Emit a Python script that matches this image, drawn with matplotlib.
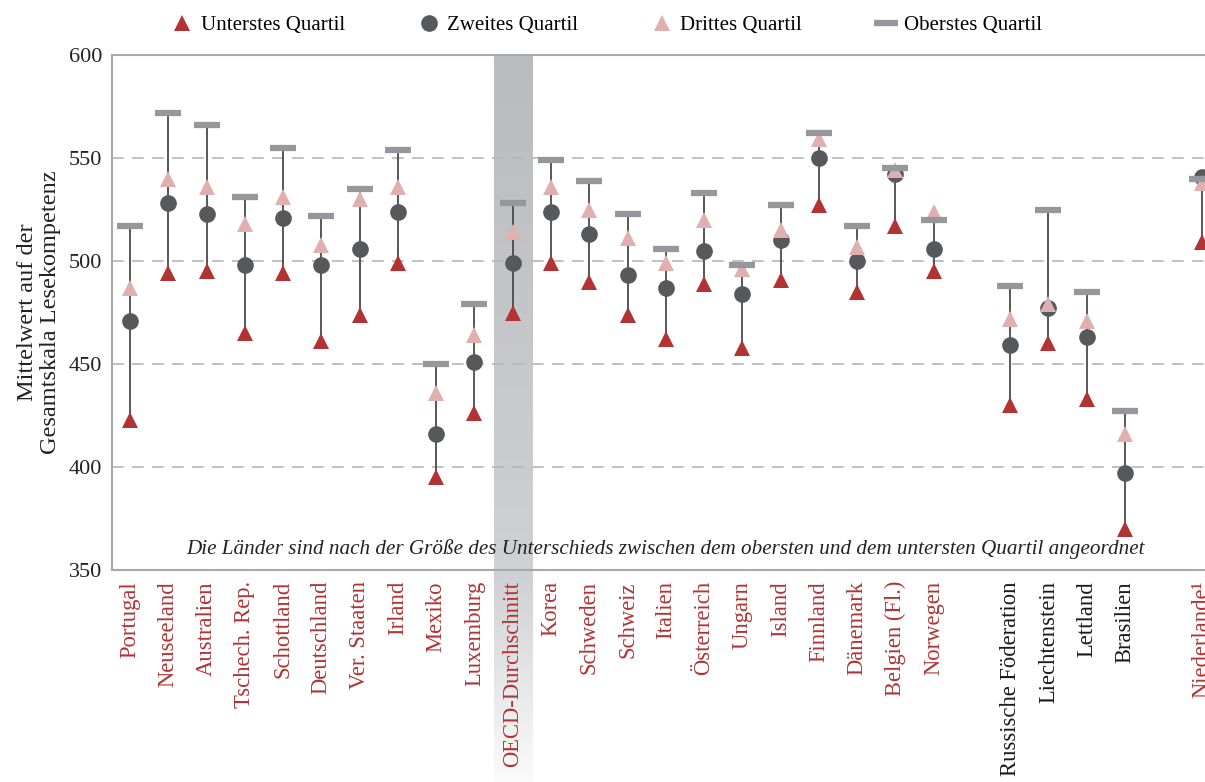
import matplotlib.pyplot as plt
import numpy as np
from matplotlib.lines import Line2D
from matplotlib.colors import LinearSegmentedColormap

plt.rcParams['font.family'] = ['Liberation Serif', 'DejaVu Serif']

# Countries in chart order, with their slot on the x axis (gaps left empty)
countries = ['Portugal', 'Neuseeland', 'Australien', 'Tschech. Rep.', 'Schottland',
             'Deutschland', 'Ver. Staaten', 'Irland', 'Mexiko', 'Luxemburg',
             'OECD-Durchschnitt', 'Korea', 'Schweden', 'Schweiz', 'Italien',
             'Österreich', 'Ungarn', 'Island', 'Finnland', 'Dänemark',
             'Belgien (Fl.)', 'Norwegen',
             'Russische Föderation', 'Liechtenstein', 'Lettland', 'Brasilien',
             'Niederlande¹']
slots = list(range(22)) + [23, 24, 25, 26, 28]
oecd = [True] * 22 + [False, False, False, False, True]

# Mean reading scores per quartile
q1 = [423, 494, 495, 465, 494, 461, 474, 499, 395, 426, 475, 499, 490, 474, 462,
      489, 458, 491, 527, 485, 517, 495, 430, 460, 433, 370, 509]
q2 = [471, 528, 523, 498, 521, 498, 506, 524, 416, 451, 499, 524, 513, 493, 487,
      505, 484, 510, 550, 500, 542, 506, 459, 477, 463, 397, 541]
q3 = [487, 540, 536, 518, 531, 508, 530, 536, 436, 464, 514, 536, 525, 511, 499,
      520, 496, 515, 559, 507, 544, 524, 472, 479, 471, 416, 538]
q4 = [517, 572, 566, 531, 555, 522, 535, 554, 450, 479, 528, 549, 539, 523, 506,
      533, 498, 527, 562, 517, 545, 520, 488, 525, 485, 427, 540]

red = '#b23333'
pink = '#dfb0ae'
dark = '#57585b'
bar = '#96979b'
spine_col = '#a8a8a8'

fig = plt.figure(figsize=(12.05, 7.82), dpi=100)
ax_l, ax_b = 112 / 1205, 1 - 570 / 782
ax_w, ax_h = 1 - ax_l, (570 - 55) / 782
ax = fig.add_axes([ax_l, ax_b, ax_w, ax_h])
ax.set_xlim(-0.47, 28.09)
ax.set_ylim(350, 600)

# OECD average band: a grey gradient fading into the label area
band = fig.add_axes([ax_l, 0, ax_w, ax_b + ax_h], zorder=-1)
band.set_xlim(ax.get_xlim())
band.set_ylim(0, 1)
cmap = LinearSegmentedColormap.from_list(
    'band', [(0, '#fbfbfb'), (0.28, '#d0d1d4'), (1, '#babbbf')])
grad = np.linspace(0, 1, 256).reshape(-1, 1)
band.imshow(grad, extent=(9.5, 10.5, 0, 1), origin='lower', aspect='auto', cmap=cmap)
band.axis('off')
ax.patch.set_alpha(0)

for y in [400, 450, 500, 550]:
    ax.axhline(y, color='#b5b5b5', lw=1.2, dashes=(7, 5), zorder=1)

for i in range(len(countries)):
    x = slots[i]
    ax.plot([x, x], [q1[i], q4[i]], color='#4a4a4a', lw=1.3, zorder=2)
ax.plot(slots, q1, '^', color=red, ms=12, mew=0, zorder=3)
ax.plot(slots, q2, 'o', color=dark, ms=12, mew=0, zorder=4)
ax.plot(slots, q3, '^', color=pink, ms=12, mew=0, zorder=5)
ax.plot(slots, q4, '_', color=bar, ms=19, mew=4.5, zorder=6)

ax.text(14, 360, 'Die Länder sind nach der Größe des Unterschieds zwischen dem '
        'obersten und dem untersten Quartil angeordnet',
        ha='center', va='center', style='italic', fontsize=15.2, color='#222222')

ax.set_yticks([350, 400, 450, 500, 550, 600])
ax.tick_params(axis='y', length=0, pad=7, labelsize=16, labelcolor='#222222')
ax.set_xticks(slots)
ax.set_xticklabels(countries, rotation=90, fontsize=16.3)
ax.tick_params(axis='x', length=0, pad=8)
for lab, is_oecd in zip(ax.get_xticklabels(), oecd):
    lab.set_color(red if is_oecd else '#1a1a1a')

ax.set_ylabel('Mittelwert auf der\nGesamtskala Lesekompetenz', fontsize=17.5,
              color='#222222', labelpad=6, linespacing=1.1)

for s in ['left', 'bottom', 'top']:
    ax.spines[s].set_color(spine_col)
    ax.spines[s].set_linewidth(1.5)
ax.spines['right'].set_visible(False)

handles = [
    Line2D([], [], ls='', marker='^', color=red, ms=12, mew=0),
    Line2D([], [], ls='', marker='o', color=dark, ms=12, mew=0),
    Line2D([], [], ls='', marker='^', color=pink, ms=12, mew=0),
    Line2D([], [], ls='', marker='_', color=bar, ms=17, mew=4.5),
]
fig.legend(handles, ['Unterstes Quartil', 'Zweites Quartil', 'Drittes Quartil',
                     'Oberstes Quartil'],
           loc='upper center', bbox_to_anchor=(0.503, 1.004), ncol=4, frameon=False,
           fontsize=15, handletextpad=0.3, columnspacing=3.4, handlelength=1.2)

plt.savefig('out.png', dpi=100)
